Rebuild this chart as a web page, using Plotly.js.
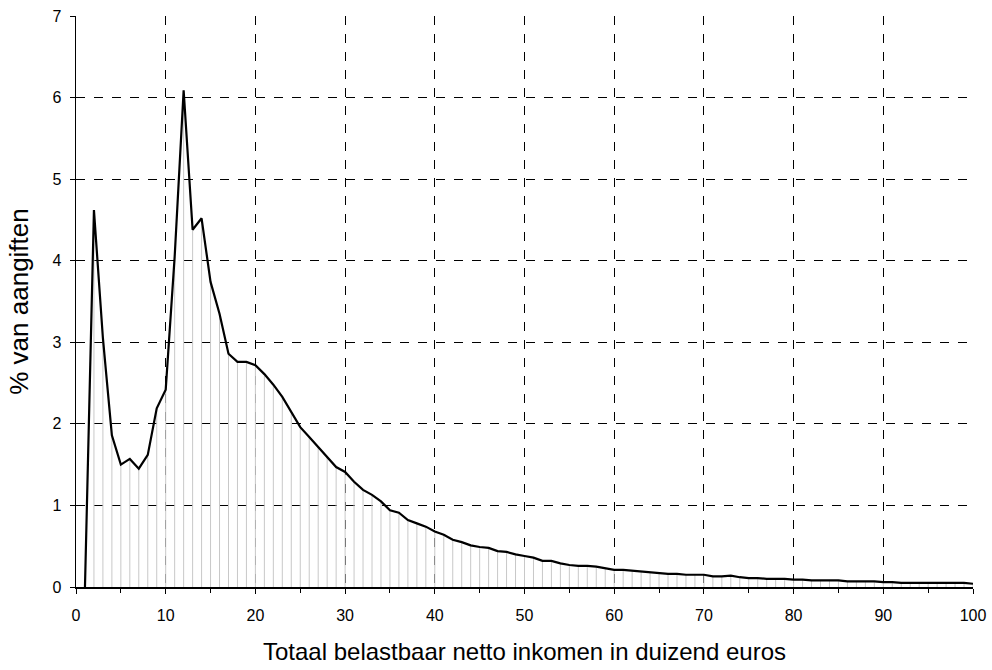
<!DOCTYPE html>
<html>
<head>
<meta charset="utf-8">
<script src="https://cdn.plot.ly/plotly-3.0.1.min.js"></script>
<style>html,body{margin:0;padding:0;background:#fff;}#chart{width:992px;height:670px;}</style>
</head>
<body>
<div id="chart"></div>
<script>
var incomeK = [];
for (var k = 1; k <= 100; k++) incomeK.push(k);
var pctReturns = [
  0.00, 4.62, 3.05, 1.86, 1.50, 1.57, 1.45, 1.62, 2.19, 2.42,
  4.05, 6.09, 4.38, 4.52, 3.74, 3.35, 2.86, 2.76, 2.76, 2.72,
  2.61, 2.48, 2.33, 2.15, 1.96, 1.84, 1.72, 1.60, 1.47, 1.41,
  1.29, 1.19, 1.13, 1.05, 0.94, 0.91, 0.82, 0.78, 0.74, 0.68,
  0.64, 0.58, 0.55, 0.51, 0.49, 0.48, 0.44, 0.43, 0.40, 0.38,
  0.36, 0.32, 0.32, 0.29, 0.27, 0.26, 0.26, 0.25, 0.23, 0.21,
  0.21, 0.20, 0.19, 0.18, 0.17, 0.16, 0.16, 0.15, 0.15, 0.15,
  0.13, 0.13, 0.14, 0.12, 0.11, 0.11, 0.10, 0.10, 0.10, 0.09,
  0.09, 0.08, 0.08, 0.08, 0.08, 0.07, 0.07, 0.07, 0.07, 0.06,
  0.06, 0.05, 0.05, 0.05, 0.05, 0.05, 0.05, 0.05, 0.05, 0.04
];
var zeros = pctReturns.map(function(){return 0;});

var dropLines = {
  x: incomeK, y: pctReturns, type: 'scatter', mode: 'markers',
  marker: {size: 0.1, color: 'rgba(0,0,0,0)'},
  error_y: {type: 'data', symmetric: false, array: zeros, arrayminus: pctReturns,
            width: 0, thickness: 1, color: '#c8c8c8'},
  hoverinfo: 'skip', showlegend: false
};
var curve = {
  x: incomeK, y: pctReturns, type: 'scatter', mode: 'lines',
  line: {color: '#000', width: 2.2}, showlegend: false
};

var layout = {
  width: 992, height: 670,
  margin: {l: 76, r: 19, t: 16, b: 83},
  paper_bgcolor: '#fff', plot_bgcolor: '#fff',
  font: {family: 'Liberation Sans, Arial, sans-serif', color: '#000', size: 16},
  showlegend: false,
  xaxis: {
    range: [0, 100], tick0: 0, dtick: 10,
    ticks: 'outside', ticklen: 5, tickcolor: '#000', tickwidth: 1,
    minor: {dtick: 5, ticks: 'outside', ticklen: 4, tickcolor: '#000', showgrid: false},
    showgrid: true, gridcolor: '#000', griddash: 'dash', gridwidth: 1,
    showline: true, linecolor: '#000', linewidth: 1.5,
    zeroline: false, automargin: false,
    tickfont: {size: 16}, ticklabelstandoff: 8,
    title: {text: 'Totaal belastbaar netto inkomen in duizend euros', font: {size: 24}, standoff: 20}
  },
  yaxis: {
    range: [0, 7], tick0: 0, dtick: 1,
    ticks: 'outside', ticklen: 5, tickcolor: '#000', tickwidth: 1,
    showgrid: true, gridcolor: '#000', griddash: 'dash', gridwidth: 1,
    showline: true, linecolor: '#000', linewidth: 1.5,
    zeroline: false, automargin: false,
    tickfont: {size: 16}, ticklabelstandoff: 5,
    title: {text: '% van aangiften', font: {size: 26}, standoff: 16}
  }
};

Plotly.newPlot('chart', [dropLines, curve], layout, {displayModeBar: false, staticPlot: true});
</script>
</body>
</html>
